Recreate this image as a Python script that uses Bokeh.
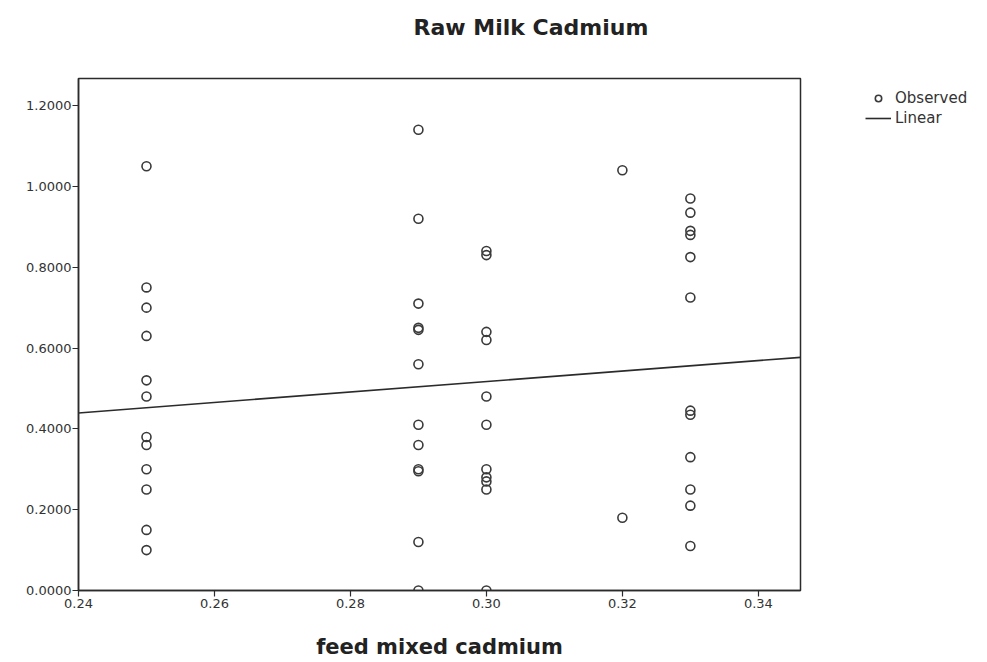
import numpy as np
from bokeh.plotting import figure
from bokeh.layouts import row
from bokeh.models import (Range1d, FixedTicker, NumeralTickFormatter, Legend, LegendItem,
                          ColumnDataSource, Title)
from bokeh.embed import file_html
from bokeh.resources import INLINE

# ---- data ----
feed_levels = [0.25, 0.29, 0.30, 0.32, 0.33]
milk_025 = [1.05, 0.75, 0.70, 0.63, 0.52, 0.48, 0.38, 0.36, 0.30, 0.25, 0.15, 0.10]
milk_029 = [1.14, 0.92, 0.71, 0.65, 0.645, 0.56, 0.41, 0.36, 0.30, 0.295, 0.12, 0.0]
milk_030 = [0.84, 0.83, 0.64, 0.62, 0.48, 0.41, 0.30, 0.28, 0.27, 0.25, 0.0]
milk_032 = [1.04, 0.18]
milk_033 = [0.97, 0.935, 0.89, 0.88, 0.825, 0.725, 0.445, 0.435, 0.33, 0.25, 0.21, 0.11]
x_ticks = [0.24, 0.26, 0.28, 0.30, 0.32, 0.34]
y_ticks = [0.0, 0.2, 0.4, 0.6, 0.8, 1.0, 1.2]
legend_labels = ["Observed", "Linear"]
chart_title = "Raw Milk Cadmium"
x_title = "feed mixed cadmium"

groups = [milk_025, milk_029, milk_030, milk_032, milk_033]
xs, ys = [], []
for fx, vals in zip(feed_levels, groups):
    xs += [fx] * len(vals)
    ys += vals
xs = np.array(xs); ys = np.array(ys)

X0, X1 = 0.24, 0.3462
Y0, Y1 = 0.0, 1.267

FONT = "DejaVu Sans"
INK = "#2b2b2b"
PT_COLOR = "#3a3a3a"

p = figure(width=802, height=662, output_backend="svg", toolbar_location=None,
           x_range=Range1d(X0, X1), y_range=Range1d(Y0, Y1),
           min_border_left=78, min_border_right=2, min_border_top=78, min_border_bottom=72)
p.xgrid.visible = False
p.ygrid.visible = False
p.outline_line_color = INK
p.outline_line_width = 1.5
p.background_fill_color = "white"
p.border_fill_color = "white"

# spacer between frame and title, then the title itself (outermost)
p.title.text = ""
p.add_layout(Title(text=" ", text_font_size="10px", standoff=26), "above")
p.add_layout(Title(text=chart_title, align="left", offset=335, standoff=0,
                   text_font=FONT, text_font_size="22px", text_font_style="bold",
                   text_color="#222222"), "above")

# fit line
slope, intercept = np.polyfit(xs, ys, 1)
lx = np.array([X0, X1])
fit_src = ColumnDataSource(dict(x=lx, y=intercept + slope * lx))
p.line("x", "y", source=fit_src, line_color=INK, line_width=1.6)

src = ColumnDataSource(dict(x=xs, y=ys))
p.scatter("x", "y", source=src, marker="circle", size=9, fill_color=None,
          line_color=PT_COLOR, line_width=1.6)

for ax in (p.xaxis[0], p.yaxis[0]):
    ax.axis_line_color = INK
    ax.axis_line_width = 1.5
    ax.major_tick_line_color = INK
    ax.major_tick_line_width = 1.2
    ax.major_tick_out = 6
    ax.major_tick_in = 0
    ax.minor_tick_line_color = None
    ax.major_label_text_font = FONT
    ax.major_label_text_font_size = "13px"
    ax.major_label_text_color = "#333333"

p.xaxis.ticker = FixedTicker(ticks=x_ticks)
p.yaxis.ticker = FixedTicker(ticks=y_ticks)
p.xaxis.formatter = NumeralTickFormatter(format="0.00")
p.yaxis.formatter = NumeralTickFormatter(format="0.0000")
p.xaxis.major_label_standoff = 2
p.yaxis.major_label_standoff = 1

p.xaxis.axis_label = x_title
p.xaxis.axis_label_text_font = FONT
p.xaxis.axis_label_text_font_size = "21px"
p.xaxis.axis_label_text_font_style = "bold"
p.xaxis.axis_label_text_color = "#222222"
p.xaxis.axis_label_standoff = 24

# ---- legend panel on the right (its frame is aligned with the main frame) ----
# The legend renderers reuse the real data; the panel's ranges keep them off-screen.
lg = figure(width=185, height=662, output_backend="svg", toolbar_location=None,
            x_range=Range1d(5, 6), y_range=Range1d(5, 6),
            min_border_left=0, min_border_right=0, min_border_top=0, min_border_bottom=0)
lg.axis.visible = False
lg.grid.visible = False
lg.outline_line_color = None
lg.background_fill_color = "white"
lg.border_fill_color = "white"
obs_r = lg.scatter("x", "y", source=src, marker="circle", size=9, fill_color=None,
                   line_color=PT_COLOR, line_width=1.6)
lin_r = lg.line("x", "y", source=fit_src, line_color=INK, line_width=1.6)

legend = Legend(items=[LegendItem(label=legend_labels[0], renderers=[obs_r]),
                       LegendItem(label=legend_labels[1], renderers=[lin_r])],
                location=(63, 463), orientation="vertical", margin=0,
                label_text_font=FONT, label_text_font_size="15px", label_text_color="#333333",
                glyph_width=26, glyph_height=16, label_height=16, spacing=2, padding=0,
                label_standoff=4, border_line_color=None, background_fill_alpha=0)
lg.add_layout(legend, "center")

layout = row(p, lg, spacing=0)
open("out.html", "w").write(file_html(layout, INLINE))
